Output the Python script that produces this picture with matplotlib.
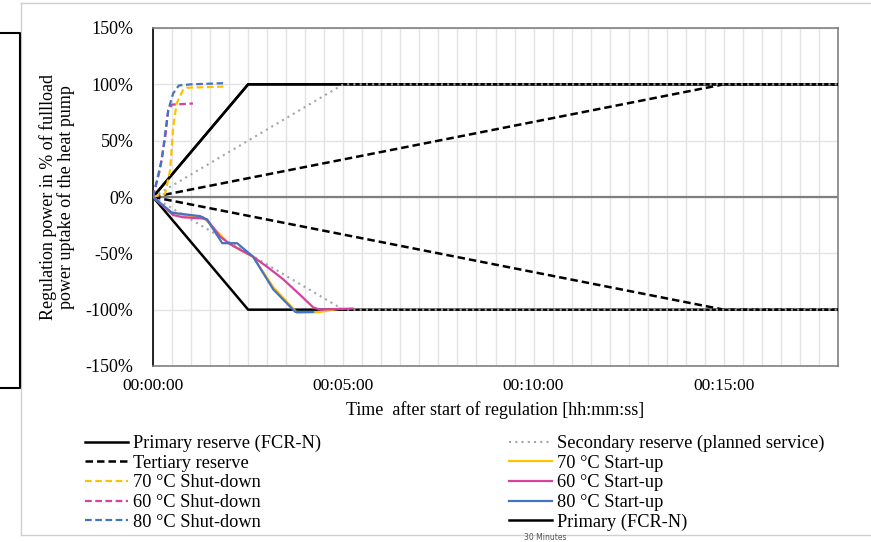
import matplotlib.pyplot as plt
from matplotlib.lines import Line2D
from matplotlib.ticker import FuncFormatter, MultipleLocator

plt.rcParams['font.family'] = ['Liberation Serif', 'DejaVu Serif']

# time in minutes after start of regulation, power in % of full load
reserve_t = [0, 2.5, 18]
secondary_t = [0, 5, 18]
tertiary_t = [0, 15, 18]
reserve_up = [0, 100, 100]
reserve_down = [0, -100, -100]

sd70_t = [0, 0.32, 0.45, 0.53, 0.62, 0.79, 0.89, 1.85]
sd70_p = [0, 3, 24, 62, 83, 95, 97, 98]
sd60_t = [0, 0.18, 0.32, 0.40, 0.50, 1.05]
sd60_p = [0, 24, 53, 77, 82, 83]
sd80_t = [0, 0.23, 0.40, 0.53, 0.68, 1.0, 1.84]
sd80_p = [0, 33, 77, 92, 99, 100, 101]

su70_t = [0, 0.45, 0.79, 1.32, 1.58, 1.95, 2.29, 2.63, 3.16, 3.79, 4.39, 4.92]
su70_p = [0, -13, -16, -18, -27, -40, -47, -53, -80, -103, -102, -99]
su60_t = [0, 0.53, 0.79, 1.29, 1.42, 1.76, 2.03, 2.63, 3.0, 3.42, 3.87, 4.21, 4.39, 5.24]
su60_p = [0, -16, -18, -19, -20, -35, -42, -53, -62, -73, -87, -98, -100, -99]
su80_t = [0, 0.5, 1.24, 1.42, 1.82, 2.21, 2.63, 3.16, 3.74, 4.21]
su80_p = [0, -14, -17, -20, -41, -41, -53, -82, -102, -102]

yellow = '#FFC000'
pink = '#D7409E'
blue = '#4472C4'
grey = '#A5A5A5'

W, H = 871, 542
fig = plt.figure(figsize=(W / 100, H / 100), dpi=100)
ax = fig.add_axes([153 / W, 1 - 366 / H, (838 - 153) / W, (366 - 28) / H])

ax.axhline(0, color='#7F7F7F', lw=1.6, zorder=2)

dash = (0, (3.0, 1.6))
ax.plot(reserve_t, reserve_up, color='black', lw=1.8, label='Primary reserve (FCR-N)', zorder=4)
ax.plot(reserve_t, reserve_down, color='black', lw=1.8, zorder=4)
ax.plot(secondary_t, reserve_up, color=grey, lw=1.5, ls=(0, (1, 2)),
        label='Secondary reserve (planned service)', zorder=5)
ax.plot(secondary_t, reserve_down, color=grey, lw=1.5, ls=(0, (1, 2)), zorder=5)
ax.plot(tertiary_t, reserve_up, color='black', lw=1.8, ls=dash, label='Tertiary reserve', zorder=4)
ax.plot(tertiary_t, reserve_down, color='black', lw=1.8, ls=dash, zorder=4)

ax.plot(su70_t, su70_p, color=yellow, lw=1.6, label='70 °C Start-up', zorder=6)
ax.plot(sd70_t, sd70_p, color=yellow, lw=1.6, ls=dash, label='70 °C Shut-down', zorder=6)
ax.plot(su60_t, su60_p, color=pink, lw=1.6, label='60 °C Start-up', zorder=6)
ax.plot(sd60_t, sd60_p, color=pink, lw=1.6, ls=dash, label='60 °C Shut-down', zorder=6)
ax.plot(su80_t, su80_p, color=blue, lw=1.6, label='80 °C Start-up', zorder=7)
ax.plot(sd80_t, sd80_p, color=blue, lw=1.6, ls=dash, label='80 °C Shut-down', zorder=7)
ax.plot(reserve_t, reserve_up, color='black', lw=1.8, label='Primary (FCR-N)', zorder=4)

ax.set_xlim(0, 18)
ax.set_ylim(-150, 150)
ax.xaxis.set_major_locator(MultipleLocator(5))
ax.xaxis.set_minor_locator(MultipleLocator(0.5))
ax.yaxis.set_major_locator(MultipleLocator(50))
ax.xaxis.set_major_formatter(FuncFormatter(
    lambda v, p: '00:%02d:00' % int(round(v))))
ax.yaxis.set_major_formatter(FuncFormatter(lambda v, p: '%d%%' % v))
ax.grid(True, which='both', axis='x', color='#E3E3E3', lw=1.0, zorder=0)
ax.grid(True, which='major', axis='y', color='#E3E3E3', lw=1.0, zorder=0)
ax.tick_params(which='both', length=0)
ax.tick_params(axis='y', labelsize=13, pad=14)
ax.tick_params(axis='x', labelsize=12.5, pad=9)
for s in ['top', 'right', 'bottom']:
    ax.spines[s].set_color('#808080')
ax.spines['left'].set_color('black')
for s in ax.spines.values():
    s.set_linewidth(1.2)

ax.set_xlabel('Time  after start of regulation [hh:mm:ss]', fontsize=13, labelpad=5)
ax.set_ylabel('Regulation power in % of fullload\npower uptake of the heat pump',
              fontsize=13, labelpad=8, linespacing=0.95)

h, l = ax.get_legend_handles_labels()
lut = dict(zip(l, h))
left_cols = ['Primary reserve (FCR-N)', 'Tertiary reserve', '70 °C Shut-down',
             '60 °C Shut-down', '80 °C Shut-down']
right_cols = ['Secondary reserve (planned service)', '70 °C Start-up', '60 °C Start-up',
              '80 °C Start-up', 'Primary (FCR-N)']
kw = dict(loc='upper left', frameon=False, fontsize=13.2, handlelength=2.35,
          handletextpad=0.25, labelspacing=0.14, borderpad=0, borderaxespad=0)
fig.legend([lut[k] for k in left_cols], left_cols,
           bbox_to_anchor=(85 / W, 1 - 435 / H), **kw)
fig.legend([lut[k] for k in right_cols], right_cols,
           bbox_to_anchor=(509 / W, 1 - 435 / H), **kw)

# screenshot frame bits
def fline(xs, ys, **k):
    fig.add_artist(Line2D([x / W for x in xs], [1 - y / H for y in ys],
                          transform=fig.transFigure, **k))

fline([20.5, W], [3, 3], color='#CFCFCF', lw=1)
fline([20.5, 20.5], [3, 535], color='#CFCFCF', lw=1)
fline([20.5, W], [535, 535], color='#CFCFCF', lw=1)
fline([0, 19.5, 19.5, 0], [33, 33, 388, 388], color='black', lw=1.5)
fig.text(545 / W, 1 - 538 / H, '30 Minutes', fontsize=5.5, color='#555555',
         family='DejaVu Sans', ha='center', va='center')

fig.savefig('out.png', dpi=100)
